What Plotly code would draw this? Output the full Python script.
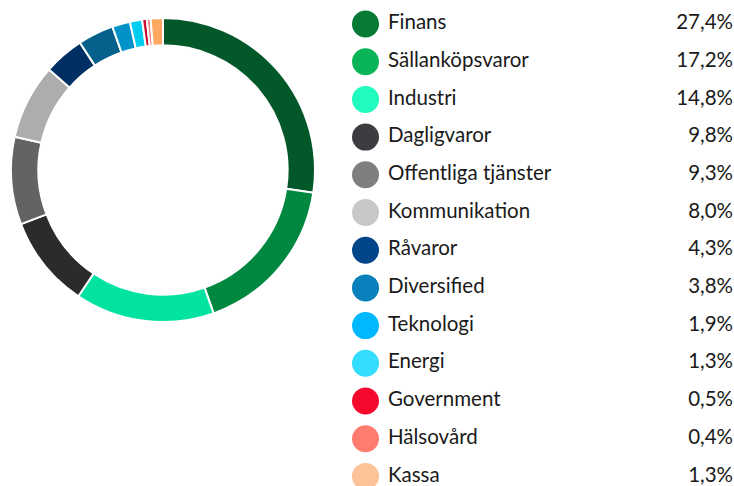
import plotly.graph_objects as go

categories = ["Finans", "Sällanköpsvaror", "Industri", "Dagligvaror", "Offentliga tjänster",
              "Kommunikation", "Råvaror", "Diversified", "Teknologi", "Energi",
              "Government", "Hälsovård", "Kassa"]
values = [27.4, 17.2, 14.8, 9.8, 9.3, 8.0, 4.3, 3.8, 1.9, 1.3, 0.5, 0.4, 1.3]
pct_labels = ["27,4%", "17,2%", "14,8%", "9,8%", "9,3%", "8,0%", "4,3%", "3,8%",
              "1,9%", "1,3%", "0,5%", "0,4%", "1,3%"]

slice_colors = ["#03582a", "#018840", "#02e3a2", "#2b2b2b", "#636363", "#adadad",
                "#003063", "#05608c", "#0193c8", "#00cdef", "#c8102e", "#f08078", "#fea862"]
legend_colors = ["#077a36", "#0ab558", "#20fcc0", "#3d3c40", "#7f7f7f", "#c8c8c8",
                 "#02468a", "#0a80bc", "#00b8ff", "#34dcfe", "#f50a2e", "#fe7b70", "#fdc398"]

W, H = 734, 486
FONT = "Lato"
FS = 20.5

fig = go.Figure()

fig.add_trace(go.Pie(
    labels=categories, values=values, sort=False, direction="clockwise", rotation=0,
    hole=0.82, textinfo="none", showlegend=False,
    marker=dict(colors=slice_colors, line=dict(color="white", width=2)),
    domain=dict(x=[11 / W, 315 / W], y=[1 - 322 / H, 1 - 18 / H]),
))

fig.add_trace(go.Scatter(
    x=[365.5] * len(categories), y=categories, mode="markers",
    marker=dict(size=27, color=legend_colors, line=dict(width=0)),
    showlegend=False, hoverinfo="skip", cliponaxis=False,
))
fig.add_trace(go.Scatter(
    x=[388] * len(categories), y=categories, mode="text", text=categories,
    textposition="middle right", textfont=dict(family=FONT, size=FS, color="#1a1a1a"),
    showlegend=False, hoverinfo="skip", cliponaxis=False,
))
fig.add_trace(go.Scatter(
    x=[733] * len(categories), y=categories, mode="text", text=pct_labels,
    textposition="middle left", textfont=dict(family=FONT, size=FS, color="#1a1a1a"),
    showlegend=False, hoverinfo="skip", cliponaxis=False,
))

row0, step = 24, 37.7
fig.update_layout(
    width=W, height=H, margin=dict(l=0, r=0, t=0, b=0),
    paper_bgcolor="white", plot_bgcolor="rgba(0,0,0,0)",
    xaxis=dict(range=[0, W], visible=False, fixedrange=True),
    yaxis=dict(type="category", categoryorder="array", categoryarray=categories,
               range=[(H - row0) / step, -row0 / step], visible=False, fixedrange=True),
)

fig.write_html("out.html", config={"displayModeBar": False},
               post_script="document.body.style.margin='0';document.body.style.overflow='hidden';")
